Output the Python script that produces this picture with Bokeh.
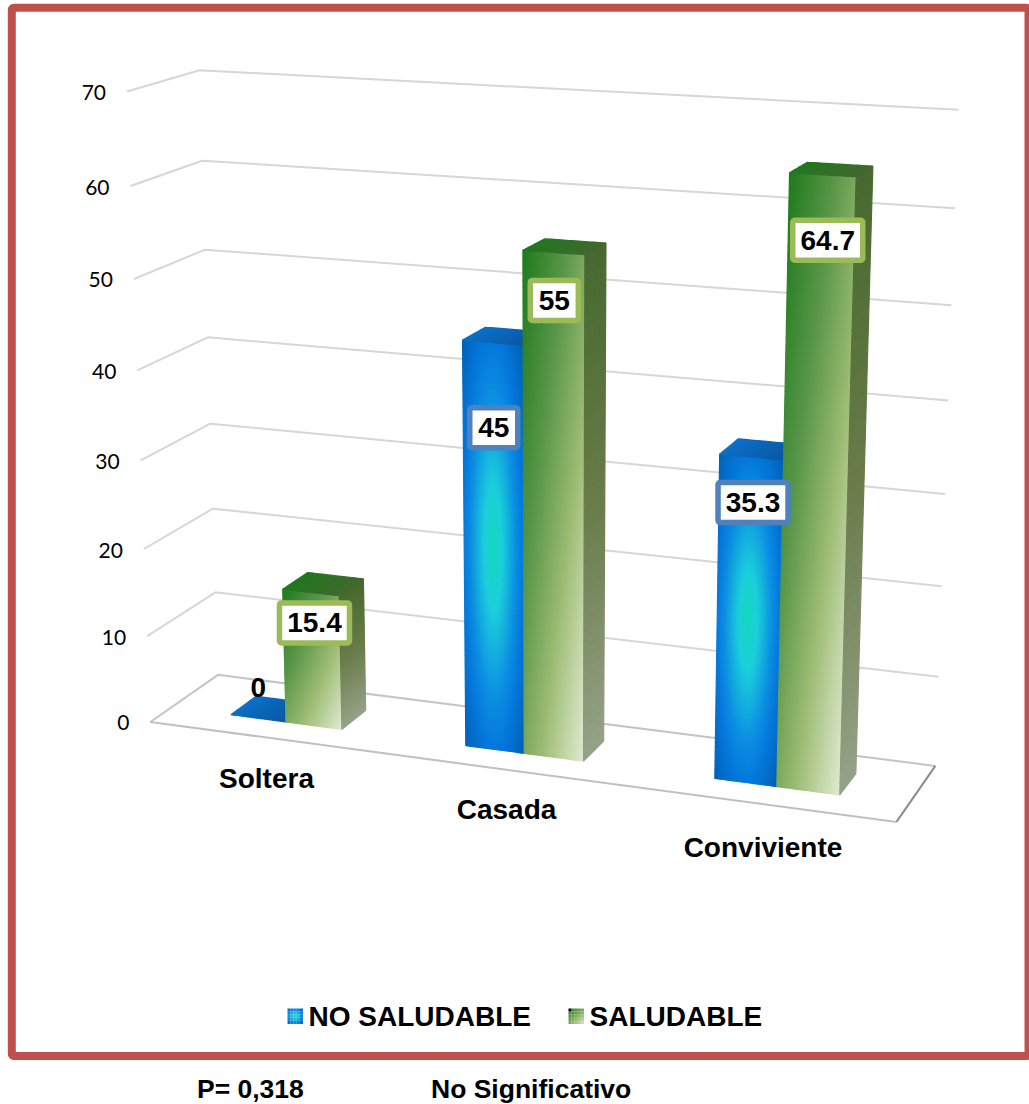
import numpy as np
from bokeh.embed import file_html
from bokeh.models import Range1d
from bokeh.plotting import figure
from bokeh.resources import INLINE
from bokeh.core.properties import value

categories = ["Soltera", "Casada", "Conviviente"]
no_saludable = [0, 45, 35.3]
saludable = [15.4, 55, 64.7]
tick_values = [0, 10, 20, 30, 40, 50, 60, 70]
series_names = ["NO SALUDABLE", "SALUDABLE"]

Y_MAX = 70.0

# Screen positions of the chart box edges at each gridline level, used to solve the camera.
FRONT_LEFT = [(150, 721), (147, 636), (143, 548), (140, 460), (137, 370), (133, 278), (130, 186), (127, 91)]
BACK_LEFT = [(217, 675), (215, 592), (213, 508), (210, 423), (207, 337), (205, 249), (202, 160), (198, 70)]
BACK_RIGHT = [(935, 765), (938, 676), (941, 586), (944, 493), (948, 400), (951, 305), (955, 208), (958, 109)]
FRONT_RIGHT_FLOOR = (896, 822)


def solve_camera():
    rows = []
    def add(u, d, h, x, y):
        x, y = x / 1000.0, y / 1000.0
        rows.append([u, d, h, 1, 0, 0, 0, 0, -x * u, -x * d, -x * h, -x])
        rows.append([0, 0, 0, 0, u, d, h, 1, -y * u, -y * d, -y * h, -y])
    for lvl, (fl, bl, br) in zip(tick_values, zip(FRONT_LEFT, BACK_LEFT, BACK_RIGHT)):
        h = lvl / Y_MAX
        add(0, 0, h, *fl)
        add(0, 1, h, *bl)
        add(1, 1, h, *br)
    add(1, 0, 0, *FRONT_RIGHT_FLOOR)
    _, _, vt = np.linalg.svd(np.array(rows, dtype=float))
    return vt[-1].reshape(3, 4)


CAM = solve_camera()


def project(u, d, h):
    u, d, h = np.broadcast_arrays(np.asarray(u, float), np.asarray(d, float), np.asarray(h, float))
    w = np.stack([u, d, h / Y_MAX, np.ones_like(u)], axis=-1)
    s = w @ CAM.T
    return s[..., 0] / s[..., 2] * 1000.0, s[..., 1] / s[..., 2] * 1000.0


def lerp_stops(stops, t):
    t = np.clip(t, stops[0][0], stops[-1][0])
    for (a, ca), (b, cb) in zip(stops, stops[1:]):
        if t <= b:
            f = (t - a) / (b - a)
            c = [ca[i] + (cb[i] - ca[i]) * f for i in range(3)]
            return "#%02x%02x%02x" % tuple(int(round(v)) for v in c)
    return "#000000"


def rgb(h):
    return tuple(int(h[i:i + 2], 16) for i in (1, 3, 5))


def stops(*pairs):
    return [(t, rgb(c)) for t, c in pairs]


BLUE_FRONT = stops((0, "#12d8bc"), (.3, "#1ccfdc"), (.75, "#0c8ee2"), (1, "#0578dc"), (1.42, "#0060b4"))
GREEN_FRONT = stops((0, "#1f7a1c"), (.35, "#5a974a"), (.65, "#9cbb72"), (1, "#dfead0"))
GREEN_SIDE = stops((0, "#46692e"), (.5, "#6a7c4a"), (1, "#95a288"))
GREEN_TOP = stops((0, "#217720"), (1, "#41692e"))
BLUE_TOP = stops((0, "#0c70c8"), (1, "#0a58a4"))


def blue_front(s, r):
    return lerp_stops(BLUE_FRONT, np.hypot((s - .5) * 2, (r - .5) * 2))


def green_front(s, r):
    return lerp_stops(GREEN_FRONT, .5 * s + .5 * r)


def green_side(s, r):
    return lerp_stops(GREEN_SIDE, r)


def green_top(s, r):
    return lerp_stops(GREEN_TOP, s)


def blue_top(s, r):
    return lerp_stops(BLUE_TOP, s)


def mesh(p, corner, shade, ns, nr):
    """Fill one bar face with small cells so its colour varies smoothly."""
    xs, ys, cols = [], [], []
    for i in range(ns):
        for j in range(nr):
            s0, s1 = i / ns, (i + 1) / ns
            r0, r1 = j / nr, (j + 1) / nr
            pts = [corner(s0, r0), corner(s1, r0), corner(s1, r1), corner(s0, r1)]
            sc = [project(*q) for q in pts]
            xs.append([float(q[0]) for q in sc])
            ys.append([float(q[1]) for q in sc])
            cols.append(shade((s0 + s1) / 2, (r0 + r1) / 2))
    p.patches(xs, ys, fill_color=cols, line_color=cols, line_width=1.2)


p = figure(width=1029, height=1104, output_backend="svg", toolbar_location=None,
           x_range=Range1d(0, 1029), y_range=Range1d(1104, 0),
           min_border=0, outline_line_color=None)
p.axis.visible = False
p.grid.visible = False
p.background_fill_color = "#ffffff"

# Outer frame
p.quad(left=[11.3], right=[1028], top=[7.3], bottom=[1055.5], fill_color=None,
       line_color="#c0504d", line_width=8, border_radius=2)

# Gridlines along the left and back walls
for lvl in tick_values:
    gx, gy = project([0, 0, 1], [0, 1, 1], [lvl, lvl, lvl])
    col = "#c4c4c4" if lvl == 0 else "#d6d6d6"
    p.line(gx, gy, line_color=col, line_width=2)

# Floor edges nearest the viewer
fx, fy = project([0, 1], [0, 0], [0, 0])
p.line(fx, fy, line_color="#c0c0c0", line_width=2)
fx, fy = project([1, 1], [0, 1], [0, 0])
p.line(fx, fy, line_color="#8c8c8c", line_width=2)

BAR_W = 0.08
D0, D1 = 0.31, 0.695


def draw_bar(i, side, val, front, top, right):
    c = (i + .5) / 3.0
    u0 = c + (side - 1) * BAR_W
    u1 = u0 + BAR_W
    if val > 0:
        mesh(p, lambda s, r: (u0 + (u1 - u0) * s, D0, val * (1 - r)), front, 30, 70)
    if right is not None:
        mesh(p, lambda s, r: (u1, D0 + (D1 - D0) * s, val * (1 - r)), right, 4, 50)
    mesh(p, lambda s, r: (u0 + (u1 - u0) * s, D1 - (D1 - D0) * r, val), top, 20, 4)
    return project((u0 + u1) / 2, D0, val)


anchors = []
for i in range(len(categories)):
    anchors.append(draw_bar(i, 0, no_saludable[i], blue_front, blue_top, None))
    anchors.append(draw_bar(i, 1, saludable[i], green_front, green_top, green_side))

# Value labels, placed relative to the top of their bar
label_shift = [(0, -31), (3.5, 30.5), (1, 85), (0.5, 48), (1.5, 45.5), (5, 65.5)]
edge_cols = [None, "#9bbb59", "#4f81bd", "#9bbb59", "#4f81bd", "#9bbb59"]
bar_values = [no_saludable[0], saludable[0], no_saludable[1], saludable[1], no_saludable[2], saludable[2]]
for (ax, ay), (dx, dy), ec, num in zip(anchors, label_shift, edge_cols, bar_values):
    cx, cy = float(ax) + dx, float(ay) + dy
    txt = "%g" % num
    if ec is not None:
        half = 35 if len(txt) > 2 else 24
        p.quad(left=[cx - half], right=[cx + half], top=[cy - 20], bottom=[cy + 20],
               fill_color="#ffffff", line_color=ec, line_width=5.5, border_radius=2)
    p.text([cx], [cy], text=[txt], text_font=value("Liberation Sans"), text_font_style="bold",
           text_font_size="28px", text_color="#000000", text_align="center", text_baseline="middle")

# Value axis labels
tx, ty = project(0, 0, np.array(tick_values, float))
p.text(tx - 21, ty + 1, text=[str(v) for v in tick_values], text_font=value("Lato"),
       text_font_size="21px", text_color="#000000", text_align="right", text_baseline="middle")

# Category labels
cat_x = [266, 506, 762.5]
cat_y = [778, 809, 847]
p.text(cat_x, cat_y, text=categories, text_font=value("Liberation Sans"), text_font_style="bold",
       text_font_size="28px", text_color="#000000", text_align="center", text_baseline="middle")


# Legend
def swatch(x0, y0, shade, corner_black):
    n = 5
    size = 3.1
    for a in range(n):
        for b in range(n):
            col = shade((a + .5) / n, (b + .5) / n)
            if corner_black and a == 0 and b == 0:
                col = "#000000"
            p.quad(left=[x0 + a * size], right=[x0 + (a + 1) * size], top=[y0 + b * size],
                   bottom=[y0 + (b + 1) * size], fill_color=col, line_color=None)


swatch(287, 1008, blue_front, False)
swatch(568, 1008, green_front, True)
p.text([308, 589], [1016, 1016], text=series_names, text_font=value("Liberation Sans"), text_font_style="bold",
       text_font_size="28px", text_color="#000000", text_align="left", text_baseline="middle")

# Significance note under the frame
p.text([196.5, 430.5], [1088, 1088], text=["P= 0,318", "No Significativo"], text_font=value("Liberation Sans"),
       text_font_style="bold", text_font_size="26.5px", text_color="#000000", text_align="left",
       text_baseline="middle")

open("out.html", "w").write(file_html(p, INLINE))
